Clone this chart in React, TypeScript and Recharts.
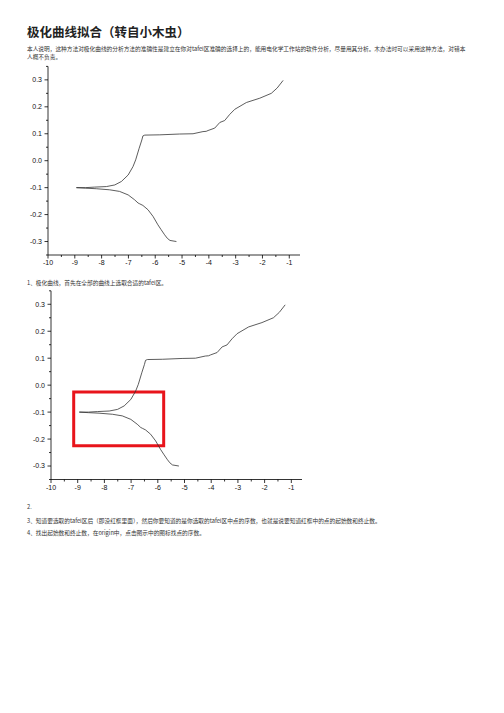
import React from "react";
import { LineChart, Line, XAxis, YAxis, ReferenceArea } from "recharts";

// polarization curve, ordered by potential (cathodic end -> anodic end)
const logCurrent = [
  -5.21, -5.45, -5.55, -5.65, -5.78, -5.9, -6.08, -6.27, -6.46, -6.58, -6.64, -6.77, -7.01, -7.33, -7.7, -8.2, -8.6, -8.94,
  -8.6, -8.26, -7.82, -7.51, -7.26, -7.01, -6.83, -6.73, -6.6, -6.5, -6.46, -6.39, -5.83, -5.09, -4.59, -4.22, -4.1,
  -4.03, -3.78, -3.59, -3.41, -3.22, -3.03, -2.6, -2.1, -1.67, -1.45, -1.23,
];
const potential = [
  -0.3, -0.296, -0.288, -0.275, -0.256, -0.238, -0.207, -0.182, -0.166, -0.16, -0.157, -0.145, -0.127, -0.114, -0.108, -0.104, -0.102, -0.1,
  -0.1, -0.098, -0.096, -0.09, -0.077, -0.053, -0.022, 0.003, 0.046, 0.077, 0.092, 0.095, 0.096, 0.099, 0.1, 0.108, 0.109,
  0.112, 0.121, 0.142, 0.149, 0.172, 0.191, 0.216, 0.232, 0.25, 0.27, 0.298,
];

const xTicks = [-10, -9.5, -9, -8.5, -8, -7.5, -7, -6.5, -6, -5.5, -5, -4.5, -4, -3.5, -3, -2.5, -2, -1.5, -1];
const yTicks = [-0.35, -0.3, -0.25, -0.2, -0.15, -0.1, -0.05, 0, 0.05, 0.1, 0.15, 0.2, 0.25, 0.3, 0.35];

// tafel region picked in the second figure
const tafelX = [-9.15, -5.78];
const tafelY = [-0.225, -0.025];

const title = "极化曲线拟合（转自小木虫）";
const intro = [
  "本人说明，这种方法对极化曲线的分析方法的准确性是建立在你对tafel区准确的选择上的，能用电化学工作站的软件分析，尽量用其分析。木办法时可以采用这种方法，对错本",
  "人概不负责。",
];
const step1 = "1、极化曲线，首先在全部的曲线上选取合适的tafel区。";
const step2 = "2.";
const step3 = "3、知道要选取的tafel区后（即没红框里面），然后你要知道的是你选取的tafel区中点的序数，也就是说要知道红框中的点的起始数和终止数。";
const step4 = "4、找出起始数和终止数，在origin中，点击图示中的图标找点的序数。";

const data = logCurrent.map((x, i) => ({ x, e: potential[i] }));

const isMajor = (v: number, step: number) => Math.abs(v / step - Math.round(v / step)) < 1e-6;

const YTick = (props: any) => {
  const { x, y, payload } = props;
  const v = payload.value as number;
  const major = isMajor(v, 0.1);
  return (
    <g>
      <line x1={x - (major ? 3.5 : 2)} x2={x} y1={y} y2={y} stroke="#000" strokeWidth={0.8} />
      {major && (
        <text x={x - 6} y={y} dy="0.35em" textAnchor="end" fontSize={7} fontFamily="Arial" fill="#111">
          {v.toFixed(1)}
        </text>
      )}
    </g>
  );
};

const XTick = (props: any) => {
  const { x, y, payload } = props;
  const v = payload.value as number;
  const major = isMajor(v, 1);
  return (
    <g>
      <line x1={x} x2={x} y1={y} y2={y + (major ? 3.5 : 2)} stroke="#000" strokeWidth={0.8} />
      {major && (
        <text x={x} y={y + 8} dy="0.35em" textAnchor="middle" fontSize={7} fontFamily="Arial" fill="#111">
          {v}
        </text>
      )}
    </g>
  );
};

const Curve = ({ top, yWidth, right, mTop, mBottom, box }: any) => (
  <div style={{ position: "absolute", left: 0, top }}>
    <LineChart width={320} height={220} data={data} margin={{ top: mTop, right, bottom: mBottom, left: 0 }}>
      <XAxis
        type="number"
        dataKey="x"
        domain={[-10, -0.6]}
        allowDataOverflow
        ticks={xTicks}
        interval={0}
        tickSize={0}
        tickMargin={0}
        tickLine={false}
        tick={<XTick />}
        axisLine={{ stroke: "#000", strokeWidth: 0.8 }}
        height={20}
      />
      <YAxis
        type="number"
        dataKey="e"
        domain={[-0.35, 0.35]}
        allowDataOverflow
        ticks={yTicks}
        interval={0}
        tickSize={0}
        tickMargin={0}
        tickLine={false}
        tick={<YTick />}
        axisLine={{ stroke: "#000", strokeWidth: 0.8 }}
        width={yWidth}
      />
      <Line
        type="linear"
        dataKey="e"
        stroke="#333"
        strokeWidth={0.8}
        dot={false}
        isAnimationActive={false}
      />
      {box && (
        <ReferenceArea
          x1={tafelX[0]}
          x2={tafelX[1]}
          y1={tafelY[0]}
          y2={tafelY[1]}
          fill="none"
          fillOpacity={0}
          stroke="#e8141b"
          strokeWidth={3}
          ifOverflow="visible"
        />
      )}
    </LineChart>
  </div>
);

const textStyle: React.CSSProperties = {
  position: "absolute",
  left: 27,
  fontFamily: "'Noto Sans CJK SC', sans-serif",
  fontSize: 5.7,
  lineHeight: "8.2px",
  color: "#333",
  whiteSpace: "nowrap",
};

export default function App() {
  return (
    <div style={{ position: "absolute", left: 0, top: 0, width: 504, height: 713, background: "#fff", overflow: "hidden" }}>
      <div
        style={{
          position: "absolute",
          left: 27,
          top: 25,
          fontFamily: "'Noto Sans CJK SC', sans-serif",
          fontSize: 12.5,
          fontWeight: 700,
          lineHeight: "13px",
          color: "#222",
          whiteSpace: "nowrap",
        }}
      >
        {title}
      </div>
      <div style={{ ...textStyle, top: 44.9 }}>
        {intro.map((l) => (
          <div key={l}>{l}</div>
        ))}
      </div>
      <Curve top={60} yWidth={48} right={20} mTop={6.4} mBottom={5} box={false} />
      <div style={{ ...textStyle, top: 279.2 }}>{step1}</div>
      <Curve top={285} yWidth={51} right={18} mTop={5.8} mBottom={5.5} box={true} />
      <div style={{ ...textStyle, top: 502.6 }}>{step2}</div>
      <div style={{ ...textStyle, top: 516.6 }}>{step3}</div>
      <div style={{ ...textStyle, top: 529.2 }}>{step4}</div>
    </div>
  );
}
